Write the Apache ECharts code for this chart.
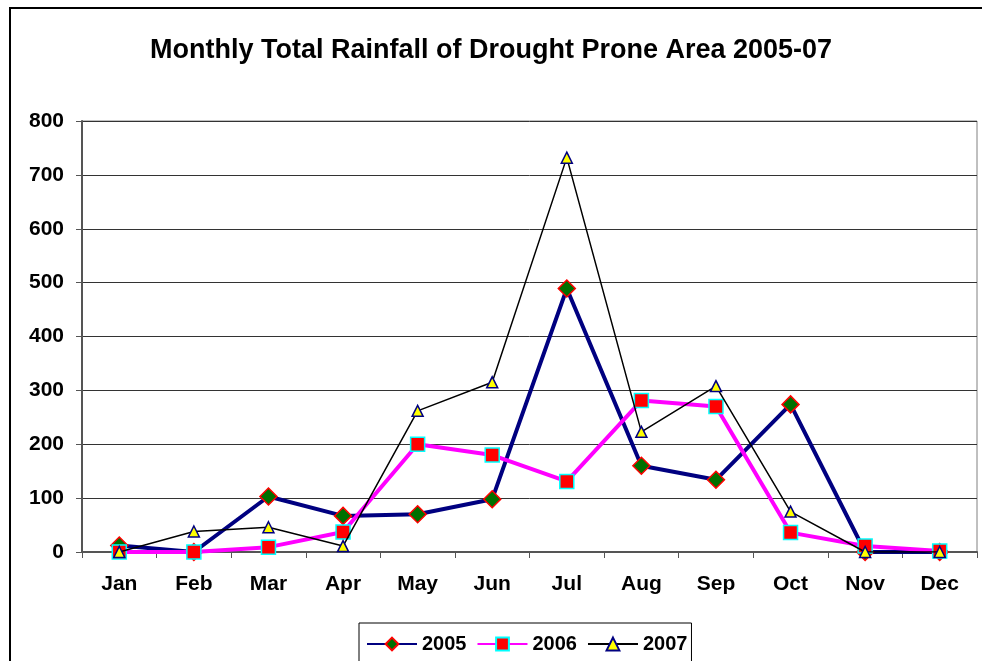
<!DOCTYPE html>
<html>
<head>
<meta charset="utf-8">
<script src="https://cdn.jsdelivr.net/npm/echarts@6/dist/echarts.min.js"></script>
<style>
  html, body { margin: 0; padding: 0; background: #fff; }
  #chart { width: 982px; height: 661px; }
</style>
</head>
<body>
<div id="chart"></div>
<script>
const months = ["Jan", "Feb", "Mar", "Apr", "May", "Jun", "Jul", "Aug", "Sep", "Oct", "Nov", "Dec"];
const rain2005 = [12, 0, 103, 67, 70, 98, 489, 160, 134, 274, 0, 0];
const rain2006 = [0, 0, 9, 37, 200, 180, 131, 281, 270, 36, 11, 2];
const rain2007 = [0, 38, 46, 11, 262, 315, 732, 223, 308, 75, 0, 0];
const yTicks = [0, 100, 200, 300, 400, 500, 600, 700, 800];

const font = "'Liberation Sans', Arial, sans-serif";

const chart = echarts.init(document.getElementById("chart"));

const option = {
  backgroundColor: "#fff",
  animation: false,
  title: {
    text: "Monthly Total Rainfall of Drought Prone Area 2005-07",
    left: "center",
    top: 32,
    textStyle: { fontFamily: font, fontSize: 27, fontWeight: "bold", color: "#000" },
  },
  graphic: [
    {
      type: "rect",
      shape: { x: 10, y: 8, width: 1000, height: 700 },
      style: { fill: "none", stroke: "#000", lineWidth: 2 },
      silent: true,
    },
  ],
  legend: {
    left: 359,
    top: 623,
    padding: [11, 4, 20, 7],
    borderColor: "#000",
    borderWidth: 1,
    itemWidth: 50,
    itemHeight: 16,
    itemGap: 10,
    textStyle: { fontFamily: font, fontSize: 20, fontWeight: "bold", color: "#000" },
    data: ["2005", "2006", "2007"],
  },
  grid: {
    left: 82,
    right: 5,
    top: 121,
    bottom: 109,
    show: true,
    borderColor: "#808080",
    borderWidth: 1,
  },
  xAxis: {
    type: "category",
    data: months,
    boundaryGap: true,
    axisLine: { lineStyle: { color: "#555", width: 2 } },
    axisTick: { show: true, interval: 0, length: 6, lineStyle: { color: "#555" } },
    axisLabel: { fontFamily: font, fontSize: 21, fontWeight: "bold", color: "#000", margin: 22, interval: 0 },
  },
  yAxis: {
    type: "value",
    min: yTicks[0],
    max: yTicks[yTicks.length - 1],
    interval: 100,
    axisLine: { show: true, lineStyle: { color: "#555", width: 2 } },
    axisTick: { show: true, length: 6, lineStyle: { color: "#555" } },
    axisLabel: { fontFamily: font, fontSize: 21, fontWeight: "bold", color: "#000", margin: 18 },
    splitLine: { lineStyle: { color: "#333", width: 1 } },
  },
  series: [
    {
      name: "2005",
      type: "line",
      data: rain2005,
      symbol: "diamond",
      symbolSize: 17,
      lineStyle: { color: "#000080", width: 4 },
      itemStyle: { color: "#007000", borderColor: "#ff0000", borderWidth: 1.5 },
      z: 3,
    },
    {
      name: "2006",
      type: "line",
      data: rain2006,
      symbol: "rect",
      symbolSize: 14,
      lineStyle: { color: "#ff00ff", width: 4 },
      itemStyle: { color: "#ff0000", borderColor: "#00ffff", borderWidth: 1.5 },
      z: 4,
    },
    {
      name: "2007",
      type: "line",
      data: rain2007,
      symbol: "triangle",
      symbolSize: 11,
      lineStyle: { color: "#000", width: 1.5 },
      itemStyle: { color: "#ffff00", borderColor: "#000080", borderWidth: 1.5 },
      z: 5,
    },
  ],
};

chart.setOption(option);
</script>
</body>
</html>
